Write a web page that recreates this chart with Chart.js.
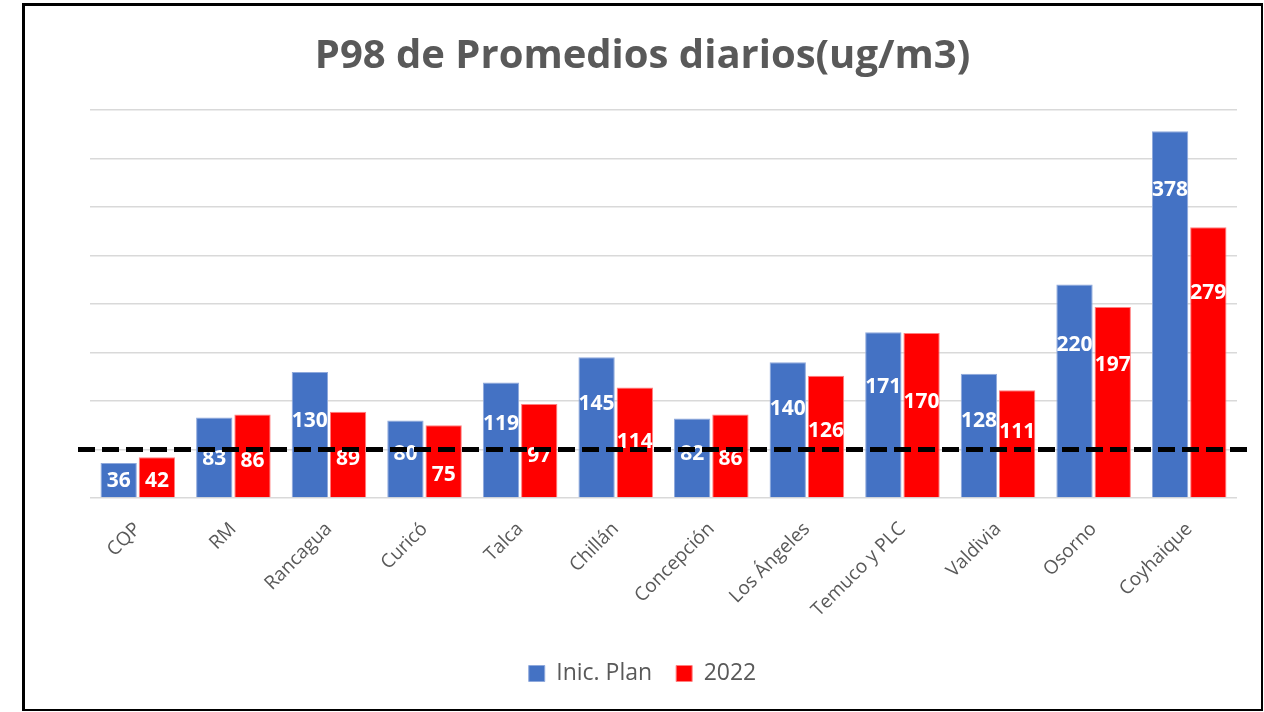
<!DOCTYPE html>
<html lang="es">
<head>
  <meta charset="UTF-8">
  <title>P98 de Promedios diarios</title>
  <style>
    body {
      margin: 0;
      background: white;
      font-family: "Open Sans", sans-serif;
    }
    .wrap {
      position: relative;
      width: 1264px;
      height: 712px;
    }
    .frame {
      position: absolute;
      left: 22px;
      top: 3px;
      width: 1236px;
      height: 703px;
      border-left: 3px solid #000;
      border-top: 3px solid #000;
      border-right: 2px solid #000;
      border-bottom: 2px solid #000;
      pointer-events: none;
    }
  </style>
</head>
<body>
<div class="wrap">
  <canvas id="chart" width="1264" height="712"></canvas>
  <div class="frame"></div>
</div>

<script src="https://cdn.jsdelivr.net/npm/chart.js"></script>
<script>
  // data
  const cities = ['CQP', 'RM', 'Rancagua', 'Curicó', 'Talca', 'Chillán', 'Concepción',
                  'Los Ángeles', 'Temuco y PLC', 'Valdivia', 'Osorno', 'Coyhaique'];
  const inicPlan = [36, 83, 130, 80, 119, 145, 82, 140, 171, 128, 220, 378];
  const year2022 = [42, 86, 89, 75, 97, 114, 86, 126, 170, 111, 197, 279];
  const norma = 50; // dashed reference line
  const yTicks = [0, 50, 100, 150, 200, 250, 300, 350, 400];

  // where each value label sits (in axis units), as placed in the original
  const inicLabelAt = [18, 40, 79, 45, 76, 97, 45, 92, 114, 79, 158, 318];
  const y2022LabelAt = [17, 38, 40, 24, 43, 58, 40, 69, 99, 68, 137, 211];

  const FONT = '"Open Sans", sans-serif';

  // white value labels inside bars
  const valueLabels = {
    id: 'valueLabels',
    afterDatasetsDraw(chart) {
      const ctx = chart.ctx;
      const y = chart.scales.y;
      const spots = [inicLabelAt, y2022LabelAt];
      ctx.save();
      ctx.fillStyle = '#ffffff';
      ctx.font = 'bold 21px ' + FONT;
      ctx.textAlign = 'center';
      ctx.textBaseline = 'middle';
      chart.data.datasets.forEach((ds, d) => {
        chart.getDatasetMeta(d).data.forEach((bar, i) => {
          ctx.fillText(String(ds.data[i]), bar.x, y.getPixelForValue(spots[d][i]));
        });
      });
      ctx.restore();
    }
  };

  // black dashed line at the norm value
  const normLine = {
    id: 'normLine',
    afterDraw(chart) {
      const ctx = chart.ctx;
      const a = chart.chartArea;
      const py = chart.scales.y.getPixelForValue(norma);
      ctx.save();
      ctx.strokeStyle = '#000000';
      ctx.lineWidth = 5;
      ctx.setLineDash([17, 7]);
      ctx.beginPath();
      ctx.moveTo(a.left - 12, py);
      ctx.lineTo(a.right + 10, py);
      ctx.stroke();
      ctx.restore();
    }
  };

  new Chart(document.getElementById('chart'), {
    type: 'bar',
    data: {
      labels: cities,
      datasets: [
        {
          label: 'Inic. Plan',
          data: inicPlan,
          backgroundColor: '#4472C4',
          borderColor: '#8fa9dc',
          borderWidth: 1,
          categoryPercentage: 0.8,
          barPercentage: 0.95
        },
        {
          label: '2022',
          data: year2022,
          backgroundColor: '#FF0000',
          borderColor: '#ff8080',
          borderWidth: 1,
          categoryPercentage: 0.8,
          barPercentage: 0.95
        }
      ]
    },
    options: {
      responsive: false,
      animation: false,
      layout: {
        padding: { left: 48, right: 27, top: 10, bottom: 17 }
      },
      plugins: {
        title: {
          display: true,
          text: 'P98 de Promedios diarios(ug/m3)',
          color: '#595959',
          font: { family: FONT, size: 40, weight: 'bold' },
          padding: { top: 23, bottom: 29 }
        },
        legend: {
          position: 'bottom',
          labels: {
            color: '#595959',
            font: { family: FONT, size: 23 },
            boxWidth: 16,
            boxHeight: 16,
            padding: 24
          }
        },
        tooltip: { enabled: false }
      },
      scales: {
        x: {
          grid: { display: false },
          border: { display: false },
          ticks: {
            color: '#595959',
            font: { family: FONT, size: 19 },
            minRotation: 45,
            maxRotation: 45,
            padding: 12
          },
          afterFit(s) { s.height = 140; }
        },
        y: {
          min: 0,
          max: 400,
          afterBuildTicks(s) { s.ticks = yTicks.map(v => ({ value: v })); },
          afterFit(s) { s.width = 42; },
          grid: { color: '#d9d9d9', lineWidth: 1.5, drawTicks: false },
          border: { display: false },
          ticks: { display: false }
        }
      }
    },
    plugins: [valueLabels, normLine]
  });
</script>
</body>
</html>
